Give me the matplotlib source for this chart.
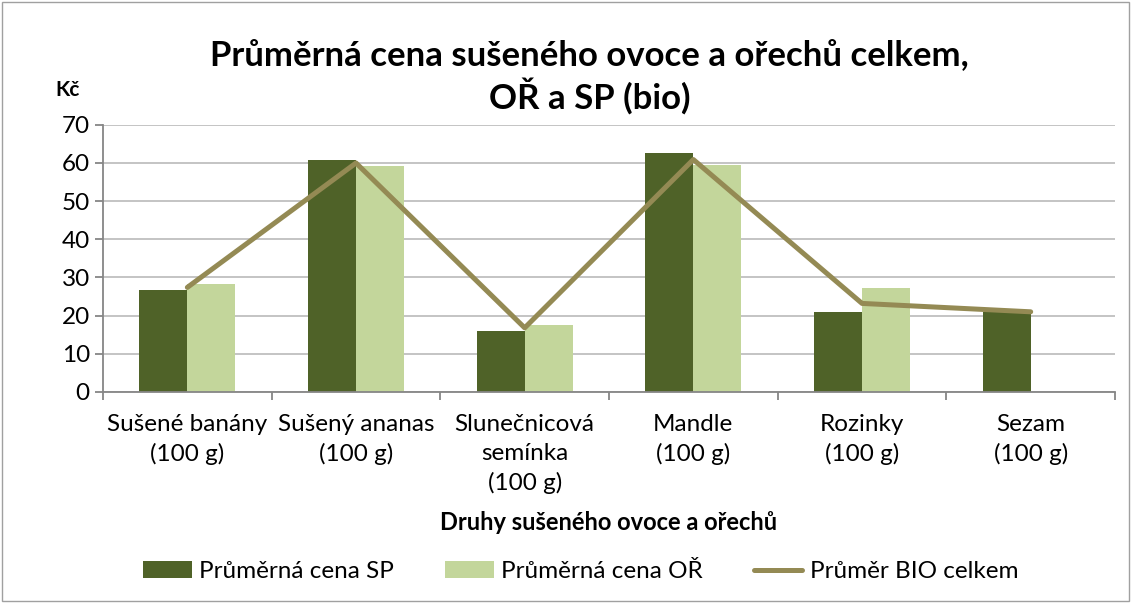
import numpy as np
import matplotlib.pyplot as plt
from matplotlib.patches import Rectangle

# data
kategorie = ["Sušené banány\n(100 g)", "Sušený ananas\n(100 g)", "Slunečnicová\nsemínka\n(100 g)",
             "Mandle\n(100 g)", "Rozinky\n(100 g)", "Sezam\n(100 g)"]
cena_sp = [26.8, 60.8, 16.0, 62.7, 21.0, 21.0]
cena_or = [28.2, 59.1, 17.6, 59.4, 27.3, 0.0]
prumer_bio = [27.4, 60.0, 16.8, 60.9, 23.2, 21.0]

plt.rcParams['font.family'] = ['Lato', 'DejaVu Sans']

tmava = '#4F6228'
svetla = '#C3D69B'
cara = '#948A54'

fig = plt.figure(figsize=(11.32, 6.03), dpi=100)
ax = fig.add_axes([0.091, 0.350, 0.894, 0.443])

x = np.arange(len(kategorie))
w = 0.285
b1 = ax.bar(x - w/2, cena_sp, w, color=tmava, zorder=2)
b2 = ax.bar(x + w/2, cena_or, w, color=svetla, zorder=2)
l1, = ax.plot(x, prumer_bio, color=cara, lw=3.6, zorder=3, solid_capstyle='round')

ax.set_xlim(-0.5, len(kategorie) - 0.5)
ax.set_ylim(0, 70)
ax.set_yticks(range(0, 71, 10))
ax.yaxis.grid(True, color='#BFBFBF', lw=1.3, zorder=0)
ax.set_axisbelow(True)
for s in ['top', 'right']:
    ax.spines[s].set_visible(False)
ax.spines['left'].set_color('#868686')
ax.spines['bottom'].set_color('#868686')
ax.spines['left'].set_linewidth(1.3)
ax.spines['bottom'].set_linewidth(1.3)

# ticks between categories, labels in the middle
ax.set_xticks(np.arange(-0.5, len(kategorie)), minor=False)
ax.set_xticklabels([])
ax.set_xticks(x, minor=True)
ax.set_xticklabels(kategorie, minor=True, fontsize=17.5, linespacing=1.45)
ax.tick_params(axis='x', which='minor', length=0, pad=16)
ax.tick_params(axis='x', which='major', length=6, color='#868686', width=1.3)
ax.tick_params(axis='y', length=6, color='#868686', width=1.3, labelsize=17.5)

ax.set_xlabel('Druhy sušeného ovoce a ořechů', fontsize=17, fontweight='bold', labelpad=12)

fig.text(0.521, 0.872, 'Průměrná cena sušeného ovoce a ořechů celkem,\nOŘ a SP (bio)',
         ha='center', va='center', fontsize=25, fontweight='bold', linespacing=1.2)
fig.text(0.060, 0.851, 'Kč', ha='center', va='center', fontsize=15, fontweight='bold')

fig.legend([b1, b2, l1], ['Průměrná cena SP', 'Průměrná cena OŘ', 'Průměr BIO celkem'],
           loc='center', bbox_to_anchor=(0.513, 0.052), ncol=3, frameon=False,
           fontsize=17.5, handlelength=2.0, handleheight=0.65, columnspacing=2.1, handletextpad=0.3)

fig.patches.append(Rectangle((0.002, 0.003), 0.995, 0.994, transform=fig.transFigure,
                             fill=False, edgecolor='#A0A0A0', lw=1))

fig.savefig('out.png', dpi=100)
